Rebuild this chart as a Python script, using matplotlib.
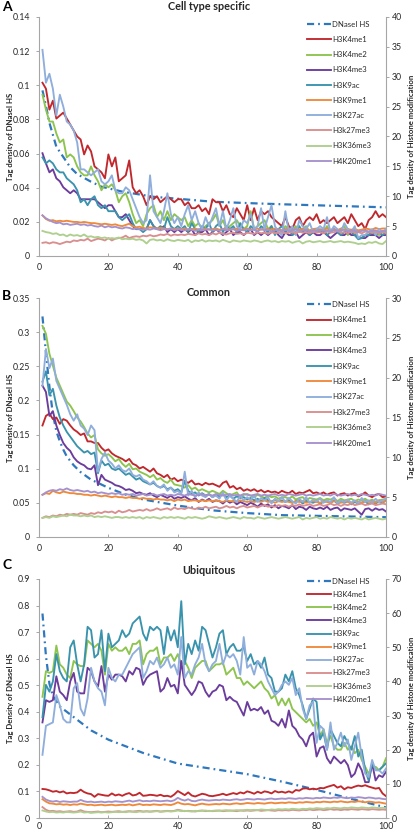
import matplotlib
matplotlib.use("Agg")
import matplotlib.pyplot as plt
import numpy as np

plt.rcParams['font.family'] = ['Lato', 'DejaVu Sans']

# ---------------- data ----------------
X = list(range(1, 101))
NAMES = ['H3K4me1', 'H3K4me2', 'H3K4me3', 'H3K9ac', 'H3K9me1',
         'H3K27ac', 'H3k27me3', 'H3K36me3', 'H4K20me1']
COLORS = ['#C0282D', '#8DC44E', '#6B3C9C', '#3A93AD', '#EE8A3C',
          '#8FAEDB', '#D98F8F', '#AECF8E', '#A592CC']
DNASE_COLOR = '#2F78BE'

# ---- Panel A : Cell type specific (DNaseI left axis, histone right axis)
A_DNASE_X = [1, 2, 3, 5, 7, 9, 11, 15, 18, 24, 33, 42, 50, 60, 70, 80, 90, 100]
A_DNASE = [0.097, 0.088, 0.078, 0.064, 0.058, 0.052, 0.048, 0.0435, 0.0406, 0.0377,
           0.0347, 0.0332, 0.0318, 0.0310, 0.0303, 0.0297, 0.0291, 0.0285]
A_H3K4ME1 = [29, 28, 24.5, 26, 23, 23.5, 24, 23, 22, 21,
             20, 19.5, 17, 18.5, 17.5, 15, 14.5, 14, 13, 17,
             15, 16.5, 12.5, 13, 13.5, 16, 11.5, 10.5, 11, 10,
             8.5, 10, 9.5, 10, 9, 9.5, 10, 9.5, 9, 9.5,
             9.5, 8.5, 9, 8, 8, 8.5, 7.5, 8, 7, 9.5,
             9, 9, 7.5, 8.5, 7, 6.5, 8, 7, 6, 8.5,
             6, 8, 6, 7.5, 7, 7.5, 6.5, 6, 5.5, 5,
             6.5, 5, 4.5, 6, 6.5, 5, 6, 6.5, 6, 7,
             5.5, 6, 5.5, 6, 6.5, 5.5, 6, 6.5, 5.5, 7,
             6, 5, 5.5, 4.5, 6, 6.5, 7.5, 6.5, 7, 6.5]
A_H3K4ME2 = [27, 24.5, 22.5, 22.5, 20.5, 19, 19.5, 16.5, 17, 16.5,
             15, 14, 13.5, 13.5, 15, 13.5, 12.5, 11, 12, 11.5,
             12, 11, 9, 10, 10.5, 9, 7, 5.5, 6, 5,
             7, 8, 8.5, 6.5, 7.5, 6, 7.5, 6, 7, 6.5,
             6, 6.5, 5, 6, 5, 5.5, 4.5, 5, 5.5, 6,
             7, 5, 6, 4.5, 5, 5.5, 6, 5, 4.5, 5,
             7.5, 4.5, 5, 5.5, 6, 4.5, 5, 4, 4.5, 4,
             5, 4.5, 4, 5, 4, 4.5, 5, 4, 4.5, 4,
             4.5, 4, 5, 4, 4.5, 4, 4.5, 5, 3.5, 4,
             4, 3, 3, 3.5, 4, 3.5, 4, 3.5, 4, 4]
A_H3K4ME3 = [17.2, 15.5, 14, 14.5, 13, 12.5, 11.5, 11, 10.5, 11,
             10.5, 9.5, 9.5, 9.5, 9.5, 9.5, 9, 8.5, 8, 8.5,
             8.5, 7.5, 6.5, 6.5, 7, 6, 5, 4.5, 4.5, 4.5,
             4.5, 6, 5, 4.5, 4.5, 5, 4, 4.5, 4, 4.5,
             4, 4.5, 4, 4.5, 3.5, 4, 4, 4.5, 3.5, 4,
             4.5, 4, 3.5, 4, 4.5, 3.5, 4, 4, 3.5, 4,
             4.5, 3.5, 4, 3.5, 4, 3.5, 4, 4.5, 3.5, 3,
             4, 3.5, 3.5, 4, 3, 3.5, 4, 3.5, 4, 3.5,
             3.5, 4, 3.5, 3, 3.5, 4, 3.5, 3.5, 4, 3.5,
             3.5, 3, 3, 3, 3.5, 3.5, 3.5, 3, 3.5, 3.5]
A_H3K9AC = [16.5, 15.5, 16, 15.5, 14.5, 14, 14, 13, 12.5, 12,
            11, 9, 9.5, 8.5, 9.5, 10, 8.5, 8, 8.5, 7.5,
            7.5, 7.5, 6.5, 6, 6.5, 7, 5.5, 4.5, 4.5, 4,
            4.5, 6, 5, 4.5, 5, 4.5, 6.5, 5, 4.5, 5,
            4.5, 5, 4, 5.5, 4.5, 4, 5, 4.5, 5.5, 4,
            5, 5.5, 4, 5, 4.5, 5, 4, 5.5, 4.5, 4,
            5, 4.5, 4, 5, 4.5, 4, 5, 3.5, 4.5, 5,
            4, 4.5, 3.5, 4, 5, 4, 4.5, 3.5, 4, 4.5,
            4, 4.5, 3.5, 4, 4.5, 4, 3.5, 4, 4.5, 4,
            3.5, 2.8, 3, 3.5, 3.5, 4, 3.5, 4, 3.5, 4]
A_H3K9ME1 = [6.8, 6.2, 5.9, 6.0, 5.8, 5.9, 5.8, 5.9, 5.8, 5.7,
             5.7, 5.6, 5.7, 5.6, 5.5, 5.5, 5.4, 5.3, 5.4, 5.3,
             5.2, 5.3, 5.1, 5.0, 5.2, 5.4, 5.0, 4.8, 4.9, 4.7,
             4.6, 4.8, 4.7, 4.6, 4.7, 4.6, 4.5, 4.6, 4.5, 4.6,
             4.5, 4.6, 4.4, 4.5, 4.6, 4.4, 4.5, 4.6, 4.4, 4.5,
             4.6, 4.4, 4.5, 4.7, 4.4, 4.5, 4.6, 4.3, 4.5, 4.6,
             4.4, 4.5, 4.6, 4.4, 4.7, 4.5, 4.4, 4.6, 4.5, 4.3,
             4.5, 4.6, 4.4, 4.5, 4.4, 4.6, 4.5, 4.3, 4.5, 4.6,
             4.4, 4.5, 4.6, 4.4, 4.5, 4.3, 4.6, 4.4, 4.5, 4.4,
             4.5, 4.3, 4.4, 4.6, 4.5, 4.4, 4.7, 4.5, 4.6, 4.6]
A_H3K27AC = [34.5, 29, 30.5, 28, 23.5, 27, 25, 22.5, 22, 21,
             19, 14.5, 14.5, 14, 13.5, 14, 14.5, 12.5, 12, 12.5,
             13.5, 11, 10.5, 10.5, 11.5, 11, 9.5, 8, 6.5, 5.5,
             6, 13.5, 7.5, 6.5, 5.5, 7.5, 10.5, 7, 5.5, 6.5,
             5, 7, 8.5, 6, 7.5, 5.5, 4.5, 6.5, 5, 6.5,
             8, 5, 7.5, 4.5, 6, 8, 5, 4.5, 6, 5.5,
             7, 4.5, 5, 8, 4.5, 6.5, 8.5, 5, 4, 3.5,
             7.5, 4, 5, 3.5, 6, 5, 4.5, 5.5, 4, 4.5,
             5, 4.5, 6.5, 4, 5, 4.5, 4, 5.5, 4.5, 4,
             5, 3, 3.5, 3.5, 4, 4.5, 3.5, 4.5, 4, 4.5]
A_H3K27ME3 = [2.2, 2.3, 2.1, 2.3, 2.2, 2.0, 2.2, 2.4, 2.3, 2.6,
              2.5, 2.7, 2.6, 2.9, 2.5, 2.7, 2.9, 2.8, 2.6, 3.0,
              2.6, 2.9, 3.0, 3.1, 3.4, 3.0, 3.2, 3.3, 3.2, 3.4,
              3.3, 3.5, 3.3, 3.4, 3.6, 3.5, 3.7, 3.4, 3.6, 3.5,
              3.6, 3.5, 3.7, 3.6, 3.5, 3.8, 3.6, 3.7, 3.5, 3.8,
              3.6, 3.9, 3.7, 3.6, 3.8, 3.9, 3.7, 3.8, 3.6, 3.9,
              3.8, 3.7, 4.0, 3.8, 3.9, 3.7, 4.0, 3.8, 3.9, 4.1,
              3.8, 3.9, 4.0, 3.8, 4.1, 3.9, 4.0, 3.8, 4.1, 3.9,
              4.0, 3.8, 4.1, 3.9, 4.0, 4.2, 3.9, 4.0, 3.8, 4.1,
              3.9, 4.0, 3.8, 4.1, 4.0, 3.9, 4.1, 3.8, 4.0, 3.9]
A_H3K36ME3 = [4.2, 4.0, 3.9, 3.7, 3.8, 3.5, 3.6, 3.3, 3.6, 3.4,
              3.5, 3.3, 3.6, 3.2, 3.3, 3.1, 3.2, 3.0, 3.1, 2.9,
              3.0, 2.9, 3.1, 2.8, 2.9, 2.8, 2.9, 2.7, 2.8, 2.6,
              2.1, 2.7, 2.8, 2.6, 2.7, 2.5, 2.8, 2.6, 2.5, 2.7,
              2.6, 2.5, 2.7, 2.3, 2.6, 2.5, 2.7, 2.4, 2.6, 2.5,
              2.6, 2.4, 2.7, 2.5, 2.3, 2.6, 2.5, 2.4, 2.6, 2.5,
              2.4, 2.6, 2.5, 2.3, 2.5, 2.6, 2.4, 2.5, 2.3, 2.5,
              2.4, 2.5, 2.2, 2.4, 2.5, 2.1, 2.4, 2.5, 2.3, 2.4,
              2.5, 2.3, 2.4, 2.5, 2.3, 2.4, 2.5, 2.3, 2.4, 2.3,
              2.2, 2.0, 2.1, 2.0, 2.3, 2.2, 2.4, 2.1, 2.0, 2.5]
A_H4K20ME1 = [6.8, 6.3, 6.0, 5.7, 5.5, 5.6, 5.3, 5.4, 5.2, 5.3,
              5.4, 5.2, 5.3, 5.1, 5.2, 5.0, 4.9, 5.1, 4.8, 5.0,
              4.8, 4.9, 4.7, 4.6, 4.8, 4.7, 4.5, 4.6, 4.5, 4.4,
              4.5, 4.4, 4.6, 4.5, 4.3, 4.5, 4.4, 4.6, 4.3, 4.5,
              4.4, 4.3, 4.5, 4.4, 4.2, 4.5, 4.3, 4.4, 4.5, 4.3,
              4.4, 4.2, 4.5, 4.3, 4.4, 4.5, 4.2, 4.4, 4.3, 4.5,
              4.3, 4.4, 4.2, 4.5, 4.3, 4.4, 4.1, 4.3, 4.4, 4.2,
              4.4, 4.2, 4.3, 4.5, 4.2, 4.3, 4.4, 4.1, 4.3, 4.2,
              4.4, 4.2, 4.3, 4.1, 4.4, 4.2, 4.3, 4.4, 4.1, 4.3,
              4.2, 4.0, 4.2, 4.3, 4.1, 4.2, 4.3, 4.0, 4.2, 4.2]

# ---- Panel B : Common
B_DNASE_X = [1, 2, 3, 4, 5, 6, 7, 8, 10, 12, 15, 20, 25, 30, 40, 50, 60, 70, 80, 90, 100]
B_DNASE = [0.323, 0.27, 0.22, 0.18, 0.155, 0.14, 0.128, 0.118, 0.105, 0.095, 0.084,
           0.072, 0.062, 0.055, 0.046, 0.039, 0.035, 0.032, 0.031, 0.030, 0.029]
B_H3K4ME1 = [14.0, 15.2, 15.5, 14.8, 15.0, 14.2, 14.8, 14.6, 14.0, 13.5,
             13.2, 12.8, 13.0, 12.0, 12.0, 11.8, 11.8, 11.2, 10.8, 11.0,
             10.5, 10.2, 10.0, 9.8, 9.5, 9.8, 9.2, 9.0, 8.6, 8.8,
             8.5, 8.2, 8.6, 8.0, 7.8, 7.5, 7.8, 7.2, 7.4, 7.0,
             7.2, 7.0, 6.8, 7.1, 6.6, 6.7, 6.5, 6.8, 6.6, 6.7,
             6.5, 6.3, 6.8, 7.0, 6.2, 6.4, 6.0, 6.2, 5.8, 6.0,
             5.8, 6.0, 5.7, 5.9, 5.6, 5.8, 5.6, 5.7, 5.5, 5.8,
             5.6, 5.5, 5.8, 5.4, 5.6, 5.5, 5.7, 5.9, 5.5, 5.6,
             5.4, 5.6, 5.3, 5.5, 5.6, 5.2, 5.4, 5.5, 5.2, 5.4,
             5.5, 5.1, 5.3, 5.6, 5.2, 5.0, 5.3, 5.4, 5.0, 5.1]
B_H3K4ME2 = [26.5, 25.5, 23.0, 21.5, 20.0, 19.0, 18.0, 17.0, 16.5, 15.8,
             15.0, 14.5, 13.8, 13.0, 12.5, 12.8, 11.0, 10.5, 10.2, 10.4,
             10.0, 9.5, 9.8, 9.2, 8.8, 9.2, 8.5, 8.6, 8.2, 8.0,
             7.8, 7.5, 7.8, 7.2, 7.4, 7.0, 6.8, 7.2, 6.6, 6.5,
             6.4, 6.2, 6.5, 6.0, 6.2, 5.8, 6.0, 5.8, 5.6, 5.8,
             5.6, 5.4, 5.8, 5.5, 5.2, 5.4, 5.6, 5.0, 5.3, 5.4,
             5.2, 5.0, 5.3, 5.1, 4.9, 5.2, 5.0, 5.1, 4.8, 5.0,
             5.0, 4.8, 5.1, 4.7, 4.9, 5.0, 4.6, 4.9, 4.8, 4.7,
             4.9, 4.6, 4.8, 4.7, 4.9, 4.5, 4.8, 4.6, 4.7, 4.8,
             4.5, 4.7, 4.6, 4.8, 4.5, 4.7, 4.4, 4.6, 4.7, 4.8]
B_H3K4ME3 = [19.0, 18.2, 15.2, 15.8, 14.0, 12.8, 11.8, 11.2, 10.8, 10.0,
             9.5, 9.2, 9.0, 8.6, 8.5, 9.0, 6.5, 7.8, 7.2, 7.0,
             6.8, 6.5, 6.4, 6.2, 5.9, 6.0, 5.8, 5.5, 5.6, 5.4,
             5.3, 5.5, 5.2, 5.0, 5.3, 5.1, 4.9, 5.2, 4.8, 5.0,
             4.9, 5.1, 4.8, 4.6, 4.9, 4.4, 4.7, 4.5, 4.8, 4.4,
             4.6, 4.5, 4.2, 4.6, 4.3, 4.5, 4.1, 4.4, 4.2, 4.0,
             4.3, 4.1, 3.8, 4.2, 3.9, 4.1, 3.7, 4.0, 3.6, 3.9,
             3.8, 3.6, 4.0, 3.5, 3.8, 3.7, 3.4, 3.8, 3.6, 3.5,
             3.7, 3.5, 3.8, 3.4, 3.6, 3.7, 3.3, 3.6, 3.5, 3.4,
             3.6, 3.2, 2.8, 3.5, 3.6, 3.3, 3.6, 3.4, 3.5, 3.2]
B_H3K9AC = [19.5, 20.8, 17.8, 18.6, 16.5, 15.0, 14.0, 13.2, 12.6, 12.0,
            11.4, 11.0, 10.6, 10.8, 10.4, 10.6, 8.0, 9.6, 9.0, 9.2,
            8.6, 8.4, 8.6, 8.2, 7.8, 8.0, 7.6, 7.2, 7.4, 7.0,
            6.8, 6.6, 6.8, 6.4, 6.2, 6.4, 6.0, 6.2, 5.8, 6.0,
            5.6, 7.0, 5.8, 5.4, 5.6, 5.2, 5.5, 5.2, 5.4, 5.0,
            5.3, 5.1, 5.4, 5.0, 5.2, 4.8, 5.1, 4.9, 5.0, 4.7,
            4.9, 4.6, 4.8, 4.5, 4.9, 4.6, 4.4, 4.7, 4.5, 4.6,
            4.4, 4.6, 4.3, 4.5, 4.6, 4.2, 4.5, 4.4, 4.3, 4.5,
            4.2, 4.4, 4.5, 4.3, 4.6, 4.2, 4.4, 4.3, 4.5, 4.1,
            4.4, 4.2, 4.3, 4.5, 4.1, 4.4, 4.2, 4.5, 4.3, 4.6]
B_H3K9ME1 = [5.3, 5.5, 5.4, 5.8, 5.6, 5.5, 5.7, 5.6, 5.5, 5.5,
             5.4, 5.4, 5.3, 5.3, 5.2, 5.3, 5.2, 5.1, 5.2, 5.1,
             5.0, 5.1, 5.0, 5.0, 4.9, 5.0, 4.9, 4.9, 4.8, 4.9,
             4.8, 4.8, 4.7, 4.8, 4.7, 4.7, 4.6, 4.7, 4.5, 4.7,
             4.6, 4.7, 4.5, 4.6, 4.6, 4.5, 4.6, 4.5, 4.6, 4.5,
             4.6, 4.5, 4.4, 4.6, 4.5, 4.5, 4.4, 4.6, 4.5, 4.4,
             4.5, 4.4, 4.5, 4.4, 4.6, 4.4, 4.5, 4.3, 4.5, 4.4,
             4.5, 4.4, 4.3, 4.5, 4.4, 4.5, 4.3, 4.4, 4.5, 4.4,
             4.3, 4.5, 4.4, 4.3, 4.5, 4.4, 4.3, 4.5, 4.4, 4.3,
             4.5, 4.4, 4.3, 4.5, 4.4, 4.5, 4.3, 4.6, 4.4, 4.5]
B_H3K27AC = [19.0, 23.6, 21.2, 22.4, 19.6, 18.6, 17.6, 16.6, 15.4, 14.6,
             15.4, 14.0, 13.6, 12.8, 14.0, 13.4, 8.2, 9.8, 10.6, 9.6,
             9.2, 8.6, 9.0, 8.4, 8.2, 8.6, 7.8, 7.6, 7.8, 7.2,
             7.0, 6.6, 7.0, 6.4, 6.2, 6.6, 5.8, 6.2, 5.6, 5.8,
             5.4, 8.2, 5.2, 5.8, 5.0, 5.6, 5.2, 5.0, 5.4, 5.0,
             5.2, 4.8, 5.6, 4.6, 5.2, 4.8, 4.4, 5.2, 4.6, 5.0,
             4.6, 5.2, 4.4, 4.9, 4.6, 5.0, 4.2, 4.8, 4.5, 5.0,
             4.4, 4.9, 4.5, 4.2, 4.8, 4.4, 5.0, 4.3, 4.7, 4.5,
             4.8, 4.3, 4.6, 4.4, 5.0, 4.2, 4.6, 4.4, 4.7, 4.3,
             4.6, 4.2, 4.9, 4.4, 4.6, 4.3, 4.8, 4.4, 4.6, 4.8]
B_H3K27ME3 = [2.4, 2.6, 2.5, 2.7, 2.6, 2.8, 2.7, 2.9, 2.8, 2.9,
              2.8, 3.0, 2.9, 2.8, 3.0, 2.9, 3.1, 3.0, 3.2, 3.1,
              3.2, 3.0, 3.3, 3.1, 3.2, 3.4, 3.2, 3.3, 3.4, 3.3,
              3.5, 3.3, 3.4, 3.6, 3.4, 3.5, 3.6, 3.4, 3.7, 3.5,
              3.6, 3.5, 3.7, 3.6, 3.5, 3.7, 3.6, 3.8, 3.6, 3.7,
              3.8, 3.6, 3.7, 3.9, 3.7, 3.8, 3.6, 3.8, 3.9, 3.7,
              3.8, 3.9, 3.7, 3.9, 4.0, 3.8, 3.9, 3.8, 4.0, 3.9,
              4.0, 3.8, 4.0, 3.9, 4.1, 3.9, 4.0, 4.1, 3.9, 4.0,
              4.1, 3.9, 4.0, 4.2, 4.0, 4.1, 3.9, 4.1, 4.0, 4.2,
              4.0, 4.1, 4.2, 4.0, 4.1, 4.2, 4.0, 4.1, 4.2, 4.1]
B_H3K36ME3 = [2.4, 2.5, 2.4, 2.6, 2.5, 2.6, 2.7, 2.6, 2.8, 2.7,
              2.7, 2.6, 2.7, 2.6, 2.7, 2.5, 2.6, 2.5, 2.6, 2.5,
              2.4, 2.5, 2.5, 2.4, 2.5, 2.4, 2.5, 2.4, 2.5, 2.3,
              2.5, 2.4, 2.5, 2.4, 2.3, 2.5, 2.4, 2.5, 2.4, 2.5,
              2.4, 2.3, 2.5, 2.4, 2.5, 2.4, 2.3, 2.4, 2.6, 2.5,
              2.4, 2.5, 2.4, 2.3, 2.4, 2.5, 2.4, 2.3, 2.5, 2.4,
              2.4, 2.3, 2.5, 2.4, 2.3, 2.4, 2.5, 2.4, 2.3, 2.4,
              2.5, 2.4, 2.3, 2.4, 2.5, 2.2, 2.4, 2.3, 2.4, 2.5,
              2.3, 2.4, 2.3, 2.5, 2.4, 2.3, 2.4, 2.2, 2.4, 2.3,
              2.4, 2.3, 2.2, 2.4, 2.2, 2.3, 2.4, 2.3, 2.2, 2.3]
B_H4K20ME1 = [5.3, 5.6, 5.8, 5.9, 5.8, 6.0, 5.9, 6.1, 5.9, 5.8,
              5.9, 5.8, 5.7, 5.8, 5.6, 5.7, 5.5, 5.6, 5.5, 5.4,
              5.5, 5.4, 5.5, 5.3, 5.4, 5.3, 5.4, 5.2, 5.3, 5.4,
              5.2, 5.3, 5.4, 5.2, 5.3, 5.4, 5.2, 5.3, 5.2, 5.4,
              5.3, 5.2, 5.4, 5.3, 5.2, 5.3, 5.4, 5.2, 5.3, 5.2,
              5.4, 5.3, 5.2, 5.3, 5.4, 5.2, 5.3, 5.2, 5.4, 5.3,
              5.2, 5.3, 5.4, 5.2, 5.3, 5.2, 5.3, 5.4, 5.2, 5.3,
              5.2, 5.4, 5.3, 5.2, 5.3, 5.4, 5.2, 5.3, 5.2, 5.3,
              5.4, 5.2, 5.3, 5.2, 5.4, 5.3, 5.2, 5.3, 5.4, 5.2,
              5.3, 5.2, 5.4, 5.3, 5.2, 5.3, 5.2, 5.4, 5.3, 5.2]

# ---- Panel C : Ubiquitous
C_DNASE_X = [1, 2, 3, 4, 5, 6, 8, 10, 15, 20, 25, 30, 40, 50, 60, 70, 80, 90, 100]
C_DNASE = [0.77, 0.61, 0.506, 0.46, 0.44, 0.42, 0.40, 0.38, 0.33, 0.295,
           0.27, 0.245, 0.205, 0.185, 0.165, 0.137, 0.106, 0.072, 0.04]
C_H3K4ME1 = [8.5, 8.4, 8.1, 7.7, 7.9, 7.5, 7.8, 7.2, 7.4, 7.3,
             7.5, 8.3, 7.6, 7.2, 7.0, 6.2, 7.0, 6.8, 6.6, 6.5,
             7.2, 6.6, 6.9, 6.5, 7.0, 7.3, 6.6, 6.8, 7.4, 6.5,
             6.6, 6.8, 6.7, 6.5, 6.8, 6.4, 6.5, 6.2, 6.9, 7.9,
             7.3, 6.7, 7.5, 6.6, 6.3, 6.7, 7.1, 6.9, 6.5, 6.4,
             6.6, 6.8, 7.1, 6.7, 7.0, 7.3, 7.0, 7.5, 7.2, 7.8,
             7.5, 7.1, 7.7, 7.3, 7.8, 7.6, 7.2, 7.9, 7.5, 7.7,
             7.4, 7.8, 7.4, 8.2, 8.0, 8.6, 8.7, 8.4, 8.6, 8.4,
             8.8, 8.7, 9.1, 9.4, 9.7, 8.9, 9.3, 8.4, 9.0, 8.8,
             9.2, 9.5, 9.3, 9.6, 9.2, 8.9, 8.6, 8.8, 7.2, 6.4]
C_H3K4ME2 = [35.5, 43, 42.5, 43, 50.5, 45, 44, 42, 41, 46,
             45, 44.5, 44.5, 52, 51, 50, 51, 49, 42, 51,
             49, 50, 49, 49, 50, 48, 51, 51, 52, 45,
             48, 49, 49, 50, 45, 47, 47, 48, 46, 48,
             45, 46, 44, 41, 44, 45, 46, 46, 43, 44,
             45, 45, 45.5, 42, 43, 44, 41, 41, 39, 40,
             39, 38, 39, 40, 38, 37, 35, 36, 33, 35,
             33, 35, 32, 31, 30, 29, 28, 29, 27, 28,
             24, 26, 22, 24, 21, 20, 20, 22, 20, 21,
             19, 20, 17, 15, 13, 15, 15, 14, 15, 17.5]
C_H3K4ME3 = [28, 34.5, 34, 34.5, 41.5, 37, 36, 34.5, 40, 42.5,
             37, 36.5, 36.5, 44, 43, 40, 38.5, 44.5, 37, 42,
             40.5, 42, 42, 41.5, 40, 43, 42, 44, 43.5, 39,
             41, 42, 42.5, 43, 37, 38, 41, 38.5, 39, 36.5,
             46, 39, 37.5, 36, 37.5, 40, 39.5, 37, 35.5, 37,
             37.5, 39, 38.5, 34.5, 35.5, 34.5, 34, 32, 30, 34,
             31.5, 32, 31.5, 32.5, 30.5, 31.5, 28.5, 28, 27, 29,
             26.5, 31.5, 27, 26, 24, 23, 21, 24, 25, 18,
             20.5, 21, 17.5, 16, 18, 17, 16, 17, 15.5, 12,
             13, 16, 14, 10.5, 10.5, 16, 11, 12.5, 12, 13.5]
C_H3K9AC = [29.5, 39, 37, 40, 48, 43, 41, 40, 50, 52,
            45, 40, 45, 56, 55, 47, 48, 55, 43, 54,
            50, 51, 52, 55, 53, 54, 57, 58, 59, 54,
            52, 56, 55, 56, 55, 48, 56, 52, 55, 50,
            63.5, 45, 51, 48, 52, 49, 56, 55, 51, 47,
            50, 54, 55, 48, 50, 51, 49, 49, 50, 46,
            48, 45, 46, 44, 47, 42, 41, 37, 37, 38,
            42, 40, 43, 38, 36, 33, 29, 32, 35, 34,
            23, 25, 20, 26, 24, 22, 21, 24, 22, 20,
            24, 18, 20, 14, 11, 16, 14, 14, 15, 16]
C_H3K9ME1 = [5.5, 4.8, 4.3, 4.2, 4.0, 4.1, 3.9, 4.0, 3.8, 4.0,
             3.9, 4.2, 4.0, 3.8, 3.9, 3.7, 3.8, 3.9, 3.7, 3.8,
             3.9, 3.7, 3.8, 3.9, 3.8, 4.0, 3.7, 3.9, 4.1, 3.8,
             3.9, 3.8, 4.0, 3.9, 3.8, 4.0, 3.9, 3.8, 4.1, 4.6,
             4.2, 4.0, 4.1, 3.9, 3.7, 4.0, 4.2, 4.0, 3.9, 4.0,
             4.1, 4.0, 4.2, 4.1, 4.0, 4.2, 4.3, 4.1, 4.2, 4.4,
             4.3, 4.2, 4.4, 4.3, 4.2, 4.4, 4.5, 4.3, 4.4, 4.5,
             4.4, 4.6, 4.5, 4.4, 4.6, 4.5, 4.7, 4.6, 4.5, 4.7,
             4.6, 4.8, 4.7, 4.6, 4.8, 4.7, 4.9, 4.7, 4.6, 4.8,
             4.7, 4.9, 4.8, 4.6, 4.8, 4.7, 4.5, 4.6, 4.4, 4.2]
C_H3K27AC = [18.5, 27, 27.5, 28, 36, 33, 29, 28, 28, 38,
             39.5, 32, 30, 35, 44, 40, 38, 37, 33, 44,
             41, 40, 42, 42, 44, 46, 48, 49, 50, 41,
             43, 46, 45, 47, 44, 45, 47, 44, 45, 42,
             53, 41, 43, 42, 45, 47, 51, 45, 43, 45,
             46, 51, 45, 48, 47, 48, 46, 42, 53, 44,
             45, 42, 46, 45, 43, 40, 38, 36, 37, 39,
             40, 39, 41, 36, 38, 32, 29, 33, 34, 22,
             27, 26, 20, 28, 20, 22, 25, 21, 23, 17,
             21, 25, 18, 13, 12, 17, 14, 14, 13, 14.5]
C_H3K27ME3 = [3.2, 2.4, 2.0, 2.1, 1.9, 2.0, 1.8, 1.9, 2.0, 1.8,
              1.9, 2.3, 1.9, 1.8, 1.7, 1.8, 1.9, 1.7, 1.8, 1.9,
              1.8, 1.9, 2.0, 1.8, 1.9, 2.0, 1.9, 2.0, 2.1, 1.9,
              2.0, 1.9, 2.0, 2.1, 1.9, 2.0, 2.1, 2.0, 2.1, 2.4,
              2.2, 2.0, 2.1, 2.0, 1.9, 2.1, 2.2, 2.0, 2.1, 2.0,
              2.1, 2.2, 2.0, 2.1, 2.2, 2.1, 2.0, 2.2, 2.1, 2.2,
              2.1, 2.2, 2.3, 2.1, 2.2, 2.3, 2.2, 2.1, 2.3, 2.2,
              2.3, 2.2, 2.4, 2.3, 2.2, 2.4, 2.3, 2.5, 2.3, 2.4,
              2.5, 2.3, 2.4, 2.6, 2.4, 2.5, 2.3, 2.5, 2.4, 2.6,
              2.5, 2.4, 2.6, 2.5, 2.4, 2.6, 2.5, 2.4, 2.5, 2.4]
C_H3K36ME3 = [2.2, 1.9, 1.7, 1.8, 1.6, 1.7, 1.6, 1.8, 1.7, 1.6,
              1.7, 1.9, 1.6, 1.7, 1.5, 1.6, 1.7, 1.6, 1.7, 1.6,
              1.7, 1.8, 1.7, 1.8, 1.7, 1.9, 1.8, 1.7, 1.9, 1.8,
              1.9, 1.8, 1.9, 2.0, 1.8, 1.9, 2.0, 1.9, 2.0, 2.2,
              2.0, 2.1, 2.0, 1.9, 2.1, 2.0, 2.1, 2.2, 2.0, 2.1,
              2.2, 2.1, 2.2, 2.3, 2.1, 2.2, 2.3, 2.2, 2.3, 2.4,
              2.3, 2.4, 2.3, 2.5, 2.4, 2.3, 2.5, 2.4, 2.6, 2.5,
              2.6, 2.5, 2.7, 2.6, 2.5, 2.7, 2.6, 2.8, 2.7, 2.9,
              2.8, 2.7, 2.9, 2.8, 3.0, 2.9, 2.8, 3.0, 2.9, 3.1,
              3.0, 2.9, 3.1, 3.0, 2.9, 3.1, 3.0, 2.9, 3.0, 2.9]
C_H4K20ME1 = [6.2, 5.4, 5.0, 4.8, 5.0, 4.7, 4.9, 4.8, 4.7, 4.8,
              4.8, 5.3, 4.9, 4.7, 4.8, 4.6, 4.7, 4.8, 4.6, 4.8,
              4.7, 4.9, 4.8, 4.7, 4.9, 5.1, 4.8, 5.0, 5.2, 4.9,
              5.0, 4.9, 5.1, 5.0, 4.9, 5.0, 5.1, 4.9, 5.2, 5.9,
              5.4, 5.1, 5.5, 5.0, 4.9, 5.2, 5.4, 5.2, 5.1, 5.2,
              5.3, 5.2, 5.4, 5.3, 5.2, 5.4, 5.5, 5.3, 5.4, 5.6,
              5.5, 5.4, 5.6, 5.5, 5.4, 5.6, 5.7, 5.5, 5.6, 5.7,
              5.6, 5.8, 5.7, 5.6, 5.8, 5.7, 5.9, 5.8, 5.7, 5.9,
              5.8, 6.0, 5.9, 5.8, 6.0, 5.9, 6.1, 5.9, 5.8, 6.0,
              5.9, 6.1, 6.0, 5.8, 6.0, 5.9, 5.7, 5.8, 5.6, 5.5]

A_SERIES = [A_H3K4ME1, A_H3K4ME2, A_H3K4ME3, A_H3K9AC, A_H3K9ME1,
            A_H3K27AC, A_H3K27ME3, A_H3K36ME3, A_H4K20ME1]
B_SERIES = [B_H3K4ME1, B_H3K4ME2, B_H3K4ME3, B_H3K9AC, B_H3K9ME1,
            B_H3K27AC, B_H3K27ME3, B_H3K36ME3, B_H4K20ME1]
C_SERIES = [C_H3K4ME1, C_H3K4ME2, C_H3K4ME3, C_H3K9AC, C_H3K9ME1,
            C_H3K27AC, C_H3K27ME3, C_H3K36ME3, C_H4K20ME1]

# ---------------- layout ----------------
W, H = 415, 833
fig = plt.figure(figsize=(W / 100, H / 100), dpi=100)

def fx(px):
    return px / W

def fy(py):
    return 1 - py / H

SPINE = '#A6A6A6'
TXT = '#262626'

panels = [
    dict(letter='A', title='Cell type specific', top=17, bottom=256,
         lmax=0.14, lstep=0.02, rmax=40, rstep=5,
         llabel='Tag density of DNaseI HS',
         dx=A_DNASE_X, dy=A_DNASE, series=A_SERIES, xpad=5,
         title_y=7, letter_y=7, leg_y=21, leg_sp=1.05),
    dict(letter='B', title='Common', top=298, bottom=537,
         lmax=0.35, lstep=0.05, rmax=30, rstep=5,
         llabel='Tag density of DNaseI HS',
         dx=B_DNASE_X, dy=B_DNASE, series=B_SERIES, xpad=5,
         title_y=292, letter_y=296, leg_y=301, leg_sp=1.08),
    dict(letter='C', title='Ubiquitous', top=579, bottom=818,
         lmax=0.9, lstep=0.1, rmax=70, rstep=10,
         llabel='Tag Density of DNaseI HS',
         dx=C_DNASE_X, dy=C_DNASE, series=C_SERIES, xpad=3,
         title_y=570, letter_y=565, leg_y=578, leg_sp=0.78),
]

LEFT, RIGHT = 39, 386
TICK_FS = 6.3

for p in panels:
    rect = [fx(LEFT), fy(p['bottom']), fx(RIGHT - LEFT), (p['bottom'] - p['top']) / H]
    ax = fig.add_axes(rect)
    ax2 = ax.twinx()

    # DNaseI (left axis)
    dn, = ax.plot(p['dx'], p['dy'], color=DNASE_COLOR, lw=1.6,
                  linestyle=(0, (3.2, 1.8, 0.8, 1.8)), label='DNaseI HS')
    handles = [dn]
    for name, col, vals in zip(NAMES, COLORS, p['series']):
        ln, = ax2.plot(X, vals, color=col, lw=1.35, label=name)
        handles.append(ln)

    ax.set_xlim(0, 100)
    ax.set_ylim(0, p['lmax'])
    ax2.set_ylim(0, p['rmax'])
    lt = np.round(np.arange(0, p['lmax'] + 1e-9, p['lstep']), 3)
    ax.set_yticks(lt)
    ax.set_yticklabels([f"{v:g}" for v in lt])
    rt = np.arange(0, p['rmax'] + 1e-9, p['rstep'])
    ax2.set_yticks(rt)
    ax2.set_yticklabels([f"{v:g}" for v in rt])
    ax.set_xticks([0, 20, 40, 60, 80, 100])

    for a in (ax, ax2):
        a.spines['top'].set_visible(False)
        for s in ('left', 'right', 'bottom'):
            a.spines[s].set_color(SPINE)
            a.spines[s].set_linewidth(0.8)
        a.set_facecolor('none')
    ax.spines['right'].set_visible(False)
    ax2.spines['left'].set_visible(False)
    ax2.spines['bottom'].set_visible(False)

    ax.tick_params(axis='y', direction='out', length=2.5, width=0.7, color=SPINE,
                   labelsize=TICK_FS, labelcolor=TXT, pad=4)
    ax.tick_params(axis='x', direction='in', length=2.5, width=0.7, color=SPINE,
                   labelsize=TICK_FS, labelcolor=TXT, pad=p['xpad'])
    ax2.tick_params(axis='y', direction='out', length=2.5, width=0.7, color=SPINE,
                    labelsize=TICK_FS, labelcolor=TXT, pad=1.5)

    # titles / labels
    fig.text(fx(209), fy(p['title_y']), p['title'], ha='center', va='center',
             fontsize=7.8, fontweight='bold', color=TXT)
    fig.text(fx(2), fy(p['letter_y']), p['letter'], ha='left', va='center',
             fontsize=10, fontweight='bold', color='black')
    ymid = (p['top'] + p['bottom']) / 2
    fig.text(fx(10), fy(ymid), p['llabel'], ha='center', va='center',
             rotation=90, fontsize=5.6, fontweight='bold', color=TXT)
    fig.text(fx(411), fy(ymid), 'Tag density of Histone modification',
             ha='center', va='center', rotation=90, fontsize=5.6,
             fontweight='bold', color=TXT)

    leg = ax2.legend(handles=handles, loc='upper left',
                     bbox_to_anchor=(fx(307), fy(p['leg_y'])),
                     bbox_transform=fig.transFigure, frameon=False,
                     fontsize=5.6, handlelength=3.1, handletextpad=0.15,
                     labelspacing=p['leg_sp'], borderpad=0, borderaxespad=0)
    for t in leg.get_texts():
        t.set_color(TXT)

fig.savefig('out.png', dpi=100)
